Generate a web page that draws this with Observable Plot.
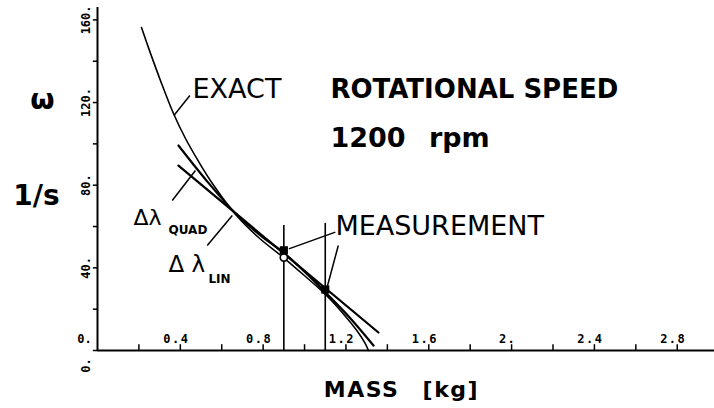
<!DOCTYPE html>
<html><head><meta charset="utf-8">
<script src="https://cdn.jsdelivr.net/npm/d3@7"></script>
<script src="https://cdn.jsdelivr.net/npm/@observablehq/plot@0.6"></script>
<style>
html,body{margin:0;padding:0;background:#fff;}
.rpm text{word-spacing:14px;}
.mass text{letter-spacing:1.5px;word-spacing:14px;}
.xlab text{letter-spacing:1.5px;}
</style></head><body><div id="chart"></div>
<script>
// axes
const yTickValues = [0, 20, 40, 60, 80, 100, 120, 140, 160];
const yLabelValues = [160, 120, 80, 40];
const yLabelText = ["160.", "120.", "80.", "40."];
const yZeroLabel = "0.";
const xTickValues = [0.2, 0.4, 0.6, 0.8, 1.0, 1.2, 1.4, 1.6, 1.8, 2.0, 2.2, 2.4, 2.6, 2.8];
const xLabelValues = [0.4, 0.8, 1.2, 1.6, 2.0, 2.4, 2.8];
const xLabelText = ["0.4", "0.8", "1.2", "1.6", "2.", "2.4", "2.8"];
const xZeroLabel = "0.";

// exact rotational speed curve (mass kg, omega 1/s)
const exactMass  = [0.2125, 0.256, 0.304, 0.367, 0.425, 0.488, 0.555, 0.667, 0.778, 0.898, 0.999, 1.101, 1.198, 1.256, 1.290, 1.309];
const exactOmega = [156.3, 143.8, 130.7, 114.7, 102.6, 91.5, 80.8, 65.8, 54.7, 45.0, 36.3, 27.1, 16.5, 9.2, 3.9, 0];
// quadratic approximation
const quadMass  = [0.391, 0.526, 0.667, 0.787, 0.898, 1.004, 1.101, 1.222, 1.333];
const quadOmega = [99.2, 82.3, 66.3, 55.7, 47.4, 37.8, 28.1, 15.5, 2.4];
// linear approximation
const linMass  = [0.391, 1.357];
const linOmega = [89.5, 8.7];
// measurements
const measMass = [0.9, 1.1];
const measOmega = [48.5, 29.5];
const measTop = [60.5, 61.5];
const openMass = [0.9];
const openOmega = [45.0];

// annotation leaders
const leaderX1 = [0.369, 0.361, 0.530, 0.924, 1.109];
const leaderY1 = [113.7, 72.6, 50.8, 49.2, 30.6];
const leaderX2 = [0.446, 0.473, 0.651, 1.149, 1.163];
const leaderY2 = [123.4, 87.1, 65.3, 57.3, 50.8];

const zip = (a, b) => a.map((v, i) => ({x: v, y: b[i]}));
const exact = zip(exactMass, exactOmega);
const quad = zip(quadMass, quadOmega);
const lin = zip(linMass, linOmega);
const meas = zip(measMass, measOmega);
const open = zip(openMass, openOmega);
const measRules = measMass.map((m, i) => ({x: m, top: measTop[i]}));
const leaders = leaderX1.map((v, i) => ({x1: v, y1: leaderY1[i], x2: leaderX2[i], y2: leaderY2[i]}));

const chart = Plot.plot({
  width: 714, height: 408,
  marginLeft: 97, marginRight: 0, marginTop: 7, marginBottom: 58,
  x: {domain: [0, 2.98], axis: null},
  y: {domain: [0, 166], axis: null},
  style: {background: "white", fontFamily: "DejaVu Sans", color: "black", overflow: "visible"},
  marks: [
    // axes
    Plot.ruleX([0], {y1: 0, y2: 166, strokeWidth: 2}),
    Plot.ruleY([0], {x1: 0, x2: 2.98, strokeWidth: 2}),
    Plot.ruleY(yTickValues, {x1: -0.02, x2: 0, strokeWidth: 1.5}),
    Plot.ruleX(xTickValues, {y1: 0, y2: 2.8, strokeWidth: 1.5}),
    Plot.text(xLabelValues, {x: d => d, y: 0, text: (d, i) => xLabelText[i], dx: -4, dy: -8, lineAnchor: "bottom",
      fontFamily: "DejaVu Sans Mono", fontWeight: "bold", fontSize: 12, className: "xlab"}),
    Plot.text([0], {x: 0, y: 0, text: [xZeroLabel], dx: -13, dy: -8, lineAnchor: "bottom",
      fontFamily: "DejaVu Sans Mono", fontWeight: "bold", fontSize: 12}),
    Plot.text(yLabelValues, {x: 0, y: d => d, text: (d, i) => yLabelText[i], rotate: -90, dx: -11,
      fontFamily: "DejaVu Sans Mono", fontWeight: "bold", fontSize: 12}),
    Plot.text([0], {x: 0, y: 0, text: [yZeroLabel], rotate: -90, dx: -11, dy: 15,
      fontFamily: "DejaVu Sans Mono", fontWeight: "bold", fontSize: 12}),
    // curves
    Plot.line(exact, {x: "x", y: "y", curve: "catmull-rom", strokeWidth: 1.6}),
    Plot.line(quad, {x: "x", y: "y", curve: "catmull-rom", strokeWidth: 2.2}),
    Plot.line(lin, {x: "x", y: "y", strokeWidth: 2.2}),
    // measurements
    Plot.ruleX(measRules, {x: "x", y1: 0, y2: "top", strokeWidth: 1.6}),
    Plot.dot(open, {x: "x", y: "y", r: 3.6, fill: "white", stroke: "black", strokeWidth: 1.6}),
    Plot.dot(meas, {x: "x", y: "y", symbol: "square", r: 4.6, fill: "black", stroke: "none"}),
    Plot.link(leaders, {x1: "x1", y1: "y1", x2: "x2", y2: "y2", strokeWidth: 1.5}),
    // annotation texts
    Plot.text(["EXACT"], {x: 0.459, y: 122.0, textAnchor: "start", lineAnchor: "bottom", fontSize: 27}),
    Plot.text(["ROTATIONAL SPEED"], {x: 1.125, y: 122.0, textAnchor: "start", lineAnchor: "bottom", fontSize: 26, fontWeight: "bold"}),
    Plot.text(["1200 rpm"], {x: 1.125, y: 98.3, textAnchor: "start", lineAnchor: "bottom", fontSize: 27, fontWeight: "bold", className: "rpm"}),
    Plot.text(["MEASUREMENT"], {x: 1.149, y: 55.7, textAnchor: "start", lineAnchor: "bottom", fontSize: 27}),
    Plot.text(["Δλ"], {x: 0.174, y: 60.5, textAnchor: "start", lineAnchor: "bottom", fontSize: 22}),
    Plot.text(["QUAD"], {x: 0.343, y: 56.6, textAnchor: "start", lineAnchor: "bottom", fontSize: 12, fontWeight: "bold"}),
    Plot.text(["Δ λ"], {x: 0.343, y: 37.8, textAnchor: "start", lineAnchor: "bottom", fontSize: 23}),
    Plot.text(["LIN"], {x: 0.536, y: 32.9, textAnchor: "start", lineAnchor: "bottom", fontSize: 12, fontWeight: "bold"}),
    // axis titles
    Plot.text(["ω"], {x: -0.266, y: 121, fontSize: 28, fontWeight: "bold"}),
    Plot.text(["1/s"], {x: -0.295, y: 70.2, lineAnchor: "bottom", fontSize: 28, fontWeight: "bold"}),
    Plot.text(["MASS [kg]"], {x: 1.468, y: -22.7, lineAnchor: "bottom", fontSize: 22, fontWeight: "bold", className: "mass"})
  ]
});
document.getElementById("chart").append(chart);
</script></body></html>
